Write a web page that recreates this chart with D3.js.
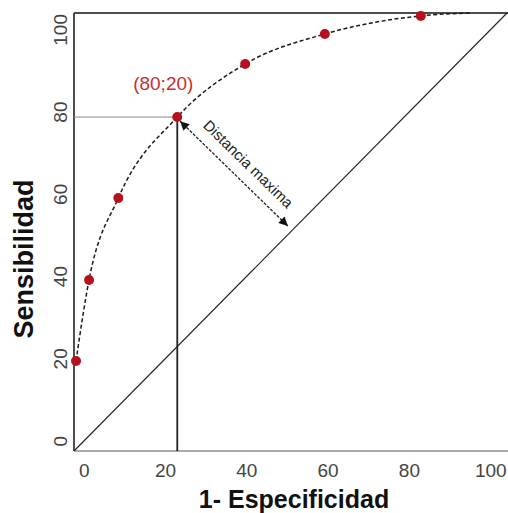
<!DOCTYPE html>
<html><head><meta charset="utf-8">
<script src="https://cdn.jsdelivr.net/npm/d3@7"></script>
<style>html,body{margin:0;padding:0;background:#fff;}svg{display:block;}</style>
</head><body>
<svg id="c" width="508" height="513"></svg>
<script>
// ---- data ----
const xTicks = [0, 20, 40, 60, 80, 100];
const yTicks = [0, 20, 40, 60, 80, 100];
const fpr  = [-2.0, 1.2, 8.4, 22.9, 39.6, 59.2, 82.8];       // 1 - especificidad
const sens = [19.5, 39.2, 59.1, 78.8, 91.7, 99.0, 103.4];    // sensibilidad
const tailFpr = [94.9];
const tailSens = [104.1];
const cutFpr = 22.9, cutSens = 78.8;
const cutLabel = "(80;20)";
const arrowFrom = [23.6, 77.8];
const arrowTo = [50.1, 52.3];
const arrowText = "Distancia maxima";
const xTitle = "1- Especificidad";
const yTitle = "Sensibilidad";
const xDomain = [-2.5, 104], yDomain = [-2.4, 104.1];

// ---- drawing ----
const svg = d3.select("#c");
const x = d3.scaleLinear().domain(xDomain).range([74, 507]);
const y = d3.scaleLinear().domain(yDomain).range([451, 13]);
const font = "'Liberation Sans', Arial, sans-serif";

const defs = svg.append("defs");
defs.append("marker").attr("id","ah").attr("viewBox","0 0 10 10").attr("refX",10).attr("refY",5)
  .attr("markerWidth",10).attr("markerHeight",9).attr("markerUnits","userSpaceOnUse")
  .attr("orient","auto-start-reverse")
  .append("path").attr("d","M0,0 L10,5 L0,10 Z").attr("fill","#111");

// diagonal
svg.append("line").attr("x1",x(xDomain[0])).attr("y1",y(yDomain[0]))
  .attr("x2",x(xDomain[1])).attr("y2",y(yDomain[1]))
  .attr("stroke","#222").attr("stroke-width",1.1);

// frame
svg.append("line").attr("x1",x(xDomain[0])).attr("x2",508).attr("y1",y(yDomain[0])).attr("y2",y(yDomain[0]))
  .attr("stroke","#555").attr("stroke-width",1.2);
svg.append("line").attr("x1",x(xDomain[0])).attr("x2",508).attr("y1",y(yDomain[1])).attr("y2",y(yDomain[1]))
  .attr("stroke","#111").attr("stroke-width",1.6);
svg.append("line").attr("x1",x(xDomain[0])).attr("x2",x(xDomain[0])).attr("y1",y(yDomain[0])).attr("y2",y(yDomain[1]))
  .attr("stroke","#222").attr("stroke-width",1.6);

// cutoff guides
svg.append("line").attr("x1",x(xDomain[0])).attr("x2",x(cutFpr)).attr("y1",y(cutSens)).attr("y2",y(cutSens))
  .attr("stroke","#888").attr("stroke-width",1);
svg.append("line").attr("x1",x(cutFpr)).attr("x2",x(cutFpr)).attr("y1",y(yDomain[0])).attr("y2",y(cutSens))
  .attr("stroke","#222").attr("stroke-width",1.8);

// curve
const curvePts = fpr.map((v,i)=>[v,sens[i]]).concat(tailFpr.map((v,i)=>[v,tailSens[i]]));
svg.append("path").datum(curvePts)
  .attr("d", d3.line().x(d=>x(d[0])).y(d=>y(d[1])).curve(d3.curveMonotoneX))
  .attr("fill","none").attr("stroke","#1a1a1a").attr("stroke-width",1.5).attr("stroke-dasharray","4,2.5");

// points
svg.selectAll("circle.pt").data(fpr.map((v,i)=>[v,sens[i]])).enter().append("circle")
  .attr("class","pt").attr("cx",d=>x(d[0])).attr("cy",d=>y(d[1])).attr("r",5)
  .attr("fill","#b5121f");

// arrow
const ax1 = x(arrowFrom[0]), ay1 = y(arrowFrom[1]), ax2 = x(arrowTo[0]), ay2 = y(arrowTo[1]);
svg.append("line").attr("x1",ax1).attr("y1",ay1).attr("x2",ax2).attr("y2",ay2)
  .attr("stroke","#222").attr("stroke-width",1.3).attr("stroke-dasharray","3,1.5")
  .attr("marker-start","url(#ah)").attr("marker-end","url(#ah)");
const ang = Math.atan2(ay2-ay1, ax2-ax1);
const mx = (ax1+ax2)/2, my = (ay1+ay2)/2;
const px = Math.sin(ang), py = -Math.cos(ang);
svg.append("text").attr("transform",`translate(${mx+px*11+3},${my+py*11+2}) rotate(${ang*180/Math.PI})`)
  .attr("text-anchor","middle").attr("font-family",font).attr("font-size",15)
  .attr("fill","#222").text(arrowText);

// cut label
svg.append("text").attr("x",x(cutFpr)-14).attr("y",y(cutSens)-27)
  .attr("text-anchor","middle").attr("font-family",font).attr("font-size",19)
  .attr("fill","#c8302c").text(cutLabel);

// x tick labels
svg.selectAll("text.xt").data(xTicks).enter().append("text").attr("class","xt")
  .attr("x",d=>x(d)).attr("y",477).attr("text-anchor","middle")
  .attr("font-family",font).attr("font-size",19).attr("fill","#444").text(d=>d);
// y tick labels
svg.selectAll("text.yt").data(yTicks).enter().append("text").attr("class","yt")
  .attr("transform",d=>`translate(67,${y(d)}) rotate(-90)`).attr("text-anchor","middle")
  .attr("font-family",font).attr("font-size",19).attr("fill","#444").text(d=>d);

// titles
svg.append("text").attr("x",294).attr("y",508).attr("text-anchor","middle")
  .attr("font-family",font).attr("font-size",25).attr("font-weight","bold").attr("fill","#111").text(xTitle);
svg.append("text").attr("transform","translate(33,259) rotate(-90)").attr("text-anchor","middle")
  .attr("font-family",font).attr("font-size",27).attr("font-weight","bold").attr("fill","#111").text(yTitle);
</script>
</body></html>
